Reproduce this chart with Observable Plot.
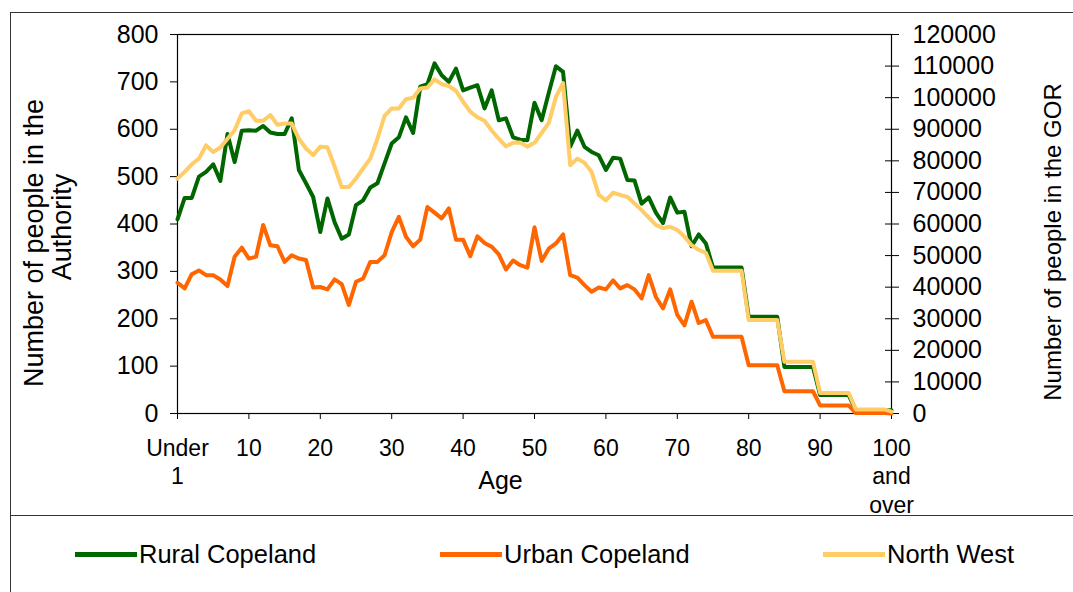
<!DOCTYPE html>
<html>
<head>
<meta charset="utf-8">
<script src="https://cdn.jsdelivr.net/npm/d3@7"></script>
<script src="https://cdn.jsdelivr.net/npm/@observablehq/plot@0.6"></script>
<style>
  html, body { margin: 0; padding: 0; background: #fff; }
  body { width: 1073px; height: 592px; position: relative; overflow: hidden; font-family: "Liberation Sans", Arial, sans-serif; }
  #chart { position: absolute; left: 0; top: 0; }
  #border { position: absolute; left: 10px; top: 12px; width: 1100px; height: 700px; border-left: 1.5px solid #333; border-top: 1.5px solid #333; pointer-events: none; }
  #legend { position: absolute; left: 10px; top: 515px; width: 1100px; height: 77px; border-top: 1.5px solid #333; }
  .item { position: absolute; top: 24px; display: flex; align-items: center; font-size: 25.5px; color: #000; }
  .sw { width: 62px; height: 5px; margin-right: 2px; }
</style>
</head>
<body>
<div id="chart"></div>
<div id="legend"></div>
<div id="border"></div>
<script>
// Categories (single years of age, 75+ shown as 5-year bands spread evenly)
const ages = d3.range(101).map(i => i === 0 ? "Under 1" : i === 100 ? "100 and over" : String(i));
const xTickPositions = [0,10,20,30,40,50,60,70,80,90,100];
const xTickLabels = ["Under\n1","10","20","30","40","50","60","70","80","90","100\nand\nover"];
const leftTicks = [0,100,200,300,400,500,600,700,800];
const rightTicks = [0,10000,20000,30000,40000,50000,60000,70000,80000,90000,100000,110000,120000];
const gorPerAuthority = 150; // right axis 120000 aligns with left axis 800

const seriesNames = ["Rural Copeland", "Urban Copeland", "North West"];
const seriesColors = ["#006600", "#FF6600", "#FFCC66"];

const rural = [
  410,455,455,500,510,526,491,590,531,597,
  598,597,607,593,590,590,623,514,486,457,
  383,454,404,369,378,440,450,477,486,528,
  570,583,625,592,690,695,739,714,700,728,
  682,688,693,644,682,619,623,583,578,577,
  656,619,677,733,721,563,597,563,552,545,
  514,540,538,493,492,443,456,424,402,456,
  424,426,353,378,359,308,308,308,308,308,
  204,204,204,204,204,98,98,98,98,98,
  39,39,39,39,39,7,7,7,7,7,
  7
];
const urban = [
  276,264,294,302,292,292,283,269,331,350,
  327,331,398,355,353,320,334,327,324,266,
  267,262,283,273,229,278,285,320,320,334,
  383,415,373,353,367,436,424,412,433,367,
  367,332,374,360,352,336,304,323,313,308,
  393,322,348,359,378,292,287,271,257,266,
  262,281,264,271,262,243,292,246,222,262,
  208,186,236,191,197,162,162,162,162,162,
  102,102,102,102,102,47,47,47,47,47,
  17,17,17,17,17,1,1,1,1,1,
  0
];
const northWest = [
  74400,76500,78900,80700,84900,82800,84200,87000,89700,95000,
  95700,92700,92700,94500,91400,91800,91800,87000,83900,81800,
  84500,84300,78200,71700,71700,74400,77600,80700,87000,94200,
  96600,96600,99500,100000,102900,103200,105800,104300,103700,102200,
  98700,95600,93800,92700,89600,87000,84600,85700,85800,84500,
  85700,88800,92000,100200,104600,78600,80700,79400,76500,69200,
  67500,69900,69200,68600,66500,64400,62000,59700,58700,59100,
  58100,56000,53300,51800,50900,45200,45200,45200,45200,45200,
  29600,29600,29600,29600,29600,16400,16400,16400,16400,16400,
  6500,6500,6500,6500,6500,1300,1300,1300,1300,1300,
  600
];

const table = ages.map((age, i) => ({age, pos: i, rural: rural[i], urban: urban[i], nw: northWest[i]}));
const font = "'Liberation Sans', Arial, sans-serif";

const chart = Plot.plot({
  width: 1073,
  height: 515,
  marginLeft: 177,
  marginRight: 182,
  marginTop: 34,
  marginBottom: 102,
  inset: 0,
  style: {fontFamily: font, fontSize: "23px", color: "#000", background: "transparent", overflow: "visible"},
  x: {type: "linear", domain: [0, 100], axis: null},
  y: {domain: [0, 800], axis: null},
  marks: [
    Plot.frame({stroke: "#000", strokeWidth: 1.2}),
    Plot.axisY(leftTicks, {anchor: "left", tickSize: 7, tickPadding: 12, fontSize: 25, label: null}),
    Plot.axisY(rightTicks.map(v => v / gorPerAuthority), {anchor: "right", tickSize: 7, tickPadding: 14, fontSize: 25, label: null,
      tickFormat: d => String(Math.round(d * gorPerAuthority))}),
    Plot.axisY(rightTicks.map(v => v / gorPerAuthority), {anchor: "right", tickSize: -7, label: null, tickFormat: () => ""}),
    Plot.axisX(xTickPositions, {anchor: "bottom", tickSize: 6, tickPadding: 17, fontSize: 23, lineHeight: 1.22, label: null,
      tickFormat: d => xTickLabels[xTickPositions.indexOf(d)]}),
    Plot.line(table, {x: "pos", y: "rural", stroke: seriesColors[0], strokeWidth: 4}),
    Plot.line(table, {x: "pos", y: "urban", stroke: seriesColors[1], strokeWidth: 4}),
    Plot.line(table, {x: "pos", y: d => d.nw / gorPerAuthority, stroke: seriesColors[2], strokeWidth: 4}),
    Plot.text(["Number of people in the"], {frameAnchor: "left", textAnchor: "middle", lineAnchor: "middle", rotate: -90, dx: -143, dy: 19, fontSize: 27}),
    Plot.text(["Authority"], {frameAnchor: "left", textAnchor: "middle", lineAnchor: "middle", rotate: -90, dx: -115, dy: 3, fontSize: 27}),
    Plot.text(["Number of people in the GOR"], {frameAnchor: "right", textAnchor: "middle", lineAnchor: "middle", rotate: -90, dx: 162, dy: 18, fontSize: 24}),
    Plot.text(["Age"], {frameAnchor: "bottom", textAnchor: "middle", lineAnchor: "middle", dx: -34, dy: 67, fontSize: 25})
  ]
});
document.getElementById("chart").appendChild(chart);

const legendX = [65, 430, 813];
const legend = document.getElementById("legend");
seriesNames.forEach((name, i) => {
  const it = document.createElement("div");
  it.className = "item";
  it.style.left = legendX[i] + "px";
  it.innerHTML = `<span class="sw" style="background:${seriesColors[i]}"></span><span>${name}</span>`;
  legend.appendChild(it);
});
</script>
</body>
</html>
